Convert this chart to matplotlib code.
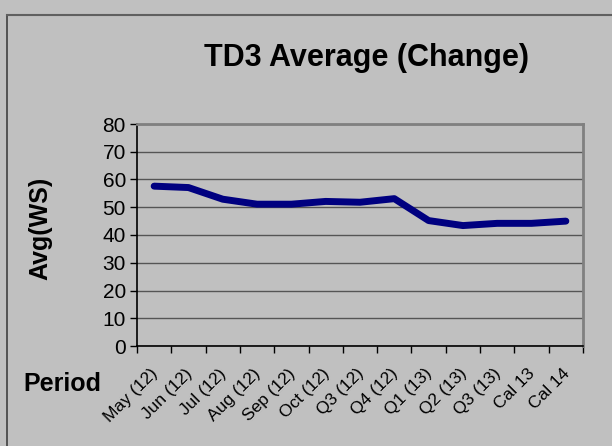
import matplotlib
matplotlib.use("Agg")
import matplotlib.pyplot as plt
from matplotlib.lines import Line2D
from matplotlib.transforms import offset_copy

periods = ["May (12)", "Jun (12)", "Jul (12)", "Aug (12)", "Sep (12)", "Oct (12)",
           "Q3 (12)", "Q4 (12)", "Q1 (13)", "Q2 (13)", "Q3 (13)", "Cal 13", "Cal 14"]
avg_ws = [57.6, 57.1, 52.9, 51.1, 51.1, 52.1, 51.8, 53.1, 45.2, 43.4, 44.2, 44.2, 45.0]
y_ticks = [0, 10, 20, 30, 40, 50, 60, 70, 80]

W, H = 612, 446
bg = "#c0c0c0"
plt.rcParams["font.family"] = ["Liberation Sans", "DejaVu Sans"]

fig = plt.figure(figsize=(W / 100, H / 100), dpi=100, facecolor=bg)

# chart-area frame (left and top edges visible)
fig.add_artist(Line2D([6.5 / W, 6.5 / W], [0, 1 - 14.5 / H], color="#404040", lw=1.2))
fig.add_artist(Line2D([6.5 / W, 1], [1 - 14.5 / H, 1 - 14.5 / H], color="#606060", lw=1.5))

ax = fig.add_axes([137 / W, (H - 346) / H, 446 / W, 222 / H])
ax.set_facecolor(bg)

x = list(range(len(periods)))
ax.plot(x, avg_ws, color="#000080", lw=5, solid_capstyle="round", solid_joinstyle="round", zorder=3)

ax.set_xlim(-0.5, len(periods) - 0.5)
ax.set_ylim(0, 80)
ax.set_yticks(y_ticks)
ax.yaxis.grid(True, color="#555555", lw=1)
ax.set_axisbelow(True)

ax.set_xticks([i - 0.5 for i in range(len(periods) + 1)])
ax.set_xticklabels([])
ax.tick_params(axis="x", which="major", length=5, width=1, color="black")
ax.tick_params(axis="y", length=5, width=1, labelsize=15, pad=3)

lab_tr = offset_copy(ax.get_xaxis_transform(), fig=fig, x=-4, y=-20, units="dots")
for i, lab in enumerate(periods):
    ax.text(i, 0, lab, transform=lab_tr, rotation=45, ha="right", va="top",
            rotation_mode="anchor", fontsize=12.5, clip_on=False)

for s in ["left", "bottom"]:
    ax.spines[s].set_color("black")
    ax.spines[s].set_linewidth(1.2)
for s in ["top", "right"]:
    ax.spines[s].set_color("#808080")
    ax.spines[s].set_linewidth(2)

fig.text(367 / W, 1 - 58 / H, "TD3 Average (Change)", ha="center", va="center",
         fontsize=22, fontweight="bold")
fig.text(40 / W, 1 - 228 / H, "Avg(WS)", ha="center", va="center", rotation=90,
         fontsize=18, fontweight="bold")
fig.text(62 / W, 1 - 384 / H, "Period", ha="center", va="center",
         fontsize=18, fontweight="bold")

fig.savefig("out.png", dpi=100, facecolor=bg)
